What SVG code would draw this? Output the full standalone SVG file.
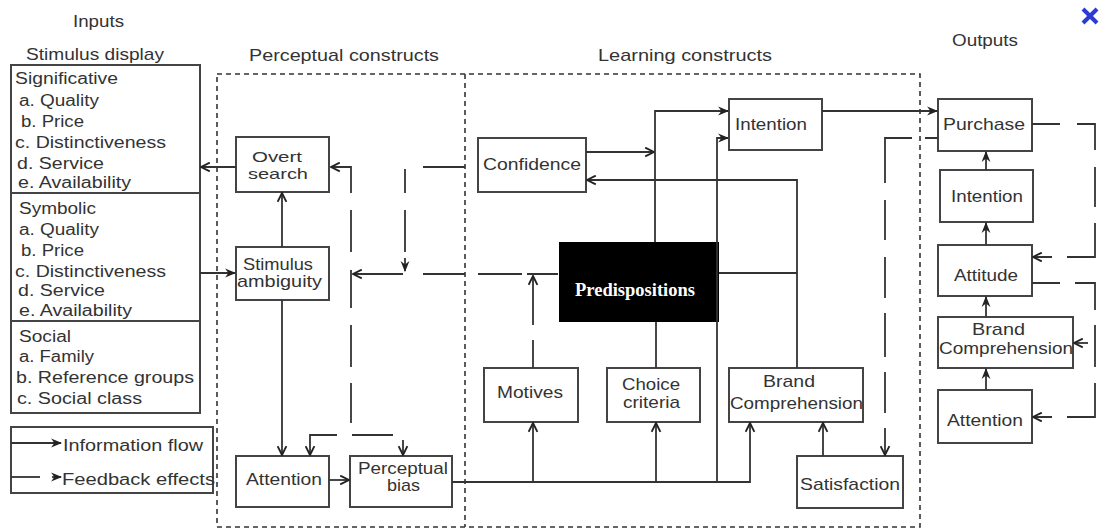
<svg xmlns="http://www.w3.org/2000/svg" width="1103" height="529" viewBox="0 0 1103 529">
<defs>
<style>
.t{font-family:"Liberation Sans",Arial,sans-serif;font-size:16px;fill:#333}
.n{font-family:"Liberation Sans",Arial,sans-serif;font-size:17px;fill:#333}
.box{fill:#fff;stroke:#444;stroke-width:2}
.c{fill:none;stroke:#333;stroke-width:1.8}
.reg{fill:none;stroke:#333;stroke-width:1.6;stroke-dasharray:5,4}
</style>
<marker id="ao" viewBox="0 0 10 10" refX="9" refY="5" markerWidth="11" markerHeight="11" orient="auto" markerUnits="userSpaceOnUse">
<path d="M1,1 L9,5 L1,9" fill="none" stroke="#222" stroke-width="1.7"/>
</marker>
<marker id="af" viewBox="0 0 10 10" refX="9" refY="5" markerWidth="11" markerHeight="11" orient="auto" markerUnits="userSpaceOnUse">
<path d="M0,1 L10,5 L0,9 L3,5 z" fill="#222"/>
</marker>
</defs>
<rect width="1103" height="529" fill="#fff"/>

<g id="headers">
<text class="n" x="73" y="27" textLength="51" lengthAdjust="spacingAndGlyphs">Inputs</text>
<text class="n" x="26" y="60" textLength="138" lengthAdjust="spacingAndGlyphs">Stimulus display</text>
<text class="n" x="249" y="61" textLength="190" lengthAdjust="spacingAndGlyphs">Perceptual constructs</text>
<text class="n" x="598" y="61" textLength="174" lengthAdjust="spacingAndGlyphs">Learning constructs</text>
<text class="n" x="952" y="46" textLength="66" lengthAdjust="spacingAndGlyphs">Outputs</text>
</g>

<g id="regions">
<rect class="reg" x="217" y="74" width="703" height="453"/>
<line class="reg" x1="465" y1="74" x2="465" y2="527"/>
</g>

<g id="stimulus-display">
<rect class="box" x="11" y="65" width="189" height="348"/>
<line x1="11" y1="193" x2="200" y2="193" stroke="#444" stroke-width="2"/>
<line x1="11" y1="321" x2="200" y2="321" stroke="#444" stroke-width="2"/>
<text class="t" x="15" y="84" textLength="103" lengthAdjust="spacingAndGlyphs">Significative</text>
<text class="t" x="19" y="106" textLength="80" lengthAdjust="spacingAndGlyphs">a. Quality</text>
<text class="t" x="21" y="127" textLength="63" lengthAdjust="spacingAndGlyphs">b. Price</text>
<text class="t" x="15" y="148" textLength="151" lengthAdjust="spacingAndGlyphs">c. Distinctiveness</text>
<text class="t" x="17" y="169" textLength="87" lengthAdjust="spacingAndGlyphs">d. Service</text>
<text class="t" x="18" y="188" textLength="113" lengthAdjust="spacingAndGlyphs">e. Availability</text>
<text class="t" x="19" y="214" textLength="77" lengthAdjust="spacingAndGlyphs">Symbolic</text>
<text class="t" x="19" y="235" textLength="80" lengthAdjust="spacingAndGlyphs">a. Quality</text>
<text class="t" x="21" y="256" textLength="63" lengthAdjust="spacingAndGlyphs">b. Price</text>
<text class="t" x="15" y="277" textLength="151" lengthAdjust="spacingAndGlyphs">c. Distinctiveness</text>
<text class="t" x="18" y="296" textLength="87" lengthAdjust="spacingAndGlyphs">d. Service</text>
<text class="t" x="19" y="316" textLength="113" lengthAdjust="spacingAndGlyphs">e. Availability</text>
<text class="t" x="19" y="342" textLength="52" lengthAdjust="spacingAndGlyphs">Social</text>
<text class="t" x="19" y="362" textLength="75" lengthAdjust="spacingAndGlyphs">a. Family</text>
<text class="t" x="16" y="383" textLength="178" lengthAdjust="spacingAndGlyphs">b. Reference groups</text>
<text class="t" x="17" y="404" textLength="125" lengthAdjust="spacingAndGlyphs">c. Social class</text>
</g>

<g id="legend">
<rect class="box" x="11" y="427" width="202" height="66"/>
<line class="c" x1="11" y1="443" x2="61" y2="443" marker-end="url(#af)"/>
<text class="t" x="63" y="451" textLength="140" lengthAdjust="spacingAndGlyphs">Information flow</text>
<line class="c" x1="11" y1="477" x2="40" y2="477"/>
<line class="c" x1="52" y1="477" x2="61" y2="477" marker-end="url(#af)"/>
<text class="t" x="62" y="485" textLength="153" lengthAdjust="spacingAndGlyphs">Feedback effects</text>
</g>

<g id="overt-search">
<rect class="box" x="236" y="137" width="93" height="55"/>
<text class="n" x="252" y="162" textLength="50" lengthAdjust="spacingAndGlyphs" style="font-size:15px">Overt</text>
<text class="n" x="248" y="179" textLength="60" lengthAdjust="spacingAndGlyphs" style="font-size:15px">search</text>
</g>
<g id="stimulus-ambiguity">
<rect class="box" x="236" y="247" width="93" height="53"/>
<text class="n" x="243" y="270" textLength="70" lengthAdjust="spacingAndGlyphs">Stimulus</text>
<text class="n" x="237" y="287" textLength="85" lengthAdjust="spacingAndGlyphs">ambiguity</text>
</g>
<g id="attention-p">
<rect class="box" x="236" y="456" width="93" height="51"/>
<text class="n" x="246" y="485" textLength="76" lengthAdjust="spacingAndGlyphs">Attention</text>
</g>
<g id="perceptual-bias">
<rect class="box" x="350" y="456" width="102" height="51"/>
<text class="n" x="358" y="474" textLength="90" lengthAdjust="spacingAndGlyphs">Perceptual</text>
<text class="n" x="387" y="491" textLength="33" lengthAdjust="spacingAndGlyphs">bias</text>
</g>

<g id="confidence">
<rect class="box" x="478" y="138" width="108" height="54"/>
<text class="n" x="483" y="170" textLength="98" lengthAdjust="spacingAndGlyphs">Confidence</text>
</g>
<g id="intention-l">
<rect class="box" x="729" y="99" width="93" height="51"/>
<text class="n" x="735" y="130" textLength="72" lengthAdjust="spacingAndGlyphs">Intention</text>
</g>
<g id="predispositions">
<rect x="559" y="242" width="160" height="80" fill="#000"/>
<text x="575" y="296" textLength="120" lengthAdjust="spacingAndGlyphs" style="font-family:'Liberation Serif','Times New Roman',serif;font-weight:bold;font-size:18px;fill:#fff">Predispositions</text>
</g>
<g id="motives">
<rect class="box" x="484" y="368" width="94" height="54"/>
<text class="n" x="497" y="398" textLength="66" lengthAdjust="spacingAndGlyphs">Motives</text>
</g>
<g id="choice-criteria">
<rect class="box" x="607" y="368" width="93" height="54"/>
<text class="n" x="622" y="390" textLength="58" lengthAdjust="spacingAndGlyphs">Choice</text>
<text class="n" x="623" y="408" textLength="57" lengthAdjust="spacingAndGlyphs">criteria</text>
</g>
<g id="brand-comprehension-l">
<rect class="box" x="729" y="368" width="134" height="54"/>
<text class="n" x="763" y="387" textLength="52" lengthAdjust="spacingAndGlyphs">Brand</text>
<text class="n" x="730" y="409" textLength="133" lengthAdjust="spacingAndGlyphs">Comprehension</text>
</g>
<g id="satisfaction">
<rect class="box" x="797" y="456" width="106" height="52"/>
<text class="n" x="800" y="490" textLength="100" lengthAdjust="spacingAndGlyphs">Satisfaction</text>
</g>

<g id="purchase">
<rect class="box" x="938" y="99" width="94" height="52"/>
<text class="n" x="943" y="130" textLength="82" lengthAdjust="spacingAndGlyphs">Purchase</text>
</g>
<g id="intention-o">
<rect class="box" x="940" y="170" width="93" height="52"/>
<text class="n" x="951" y="202" textLength="72" lengthAdjust="spacingAndGlyphs">Intention</text>
</g>
<g id="attitude">
<rect class="box" x="938" y="245" width="94" height="51"/>
<text class="n" x="954" y="281" textLength="64" lengthAdjust="spacingAndGlyphs">Attitude</text>
</g>
<g id="brand-comprehension-o">
<rect class="box" x="938" y="317" width="135" height="51"/>
<text class="n" x="972" y="335" textLength="53" lengthAdjust="spacingAndGlyphs">Brand</text>
<text class="n" x="939" y="354" textLength="134" lengthAdjust="spacingAndGlyphs">Comprehension</text>
</g>
<g id="attention-o">
<rect class="box" x="938" y="390" width="94" height="53"/>
<text class="n" x="947" y="426" textLength="76" lengthAdjust="spacingAndGlyphs">Attention</text>
</g>

<g id="connectors">
<path class="c" d="M236,167 H201" marker-end="url(#ao)"/>
<path class="c" d="M282,247 V193" marker-end="url(#ao)"/>
<path class="c" d="M200,273 H235" marker-end="url(#af)"/>
<path class="c" d="M282,300 V455" marker-end="url(#ao)"/>
<path class="c" d="M329,480 H349" marker-end="url(#ao)"/>
<path class="c" d="M452,482 H750 V423" marker-end="url(#ao)"/>
<path class="c" d="M533,482 V423" marker-end="url(#ao)"/>
<path class="c" d="M656,482 V423" marker-end="url(#ao)"/>
<path class="c" d="M717,482 V138 H728" marker-end="url(#af)"/>

<path class="c" d="M465,167 H423 M405,169 V193 M405,210 V252 M405,258 V271" marker-end="url(#af)"/>
<path class="c" d="M558,274 H527 M522,274 H478 M465,274 H423 M403,274 H353" marker-end="url(#ao)"/>
<path class="c" d="M351,423 V383 M351,367 V325 M351,308 V270 M351,252 V210 M351,193 V167 H331" marker-end="url(#ao)"/>
<path class="c" d="M337,435 H310 V455" marker-end="url(#ao)"/>
<path class="c" d="M352,435 H393 M403,440 V455" marker-end="url(#ao)"/>

<path class="c" d="M533,368 V340 M533,325 V276" marker-end="url(#ao)"/>
<path class="c" d="M586,152 H654" marker-end="url(#ao)"/>
<path class="c" d="M655,242 V111 H728" marker-end="url(#af)"/>
<path class="c" d="M656,322 V368"/>
<path class="c" d="M797,368 V180 H587" marker-end="url(#ao)"/>
<path class="c" d="M719,273 H797"/>
<path class="c" d="M823,456 V423" marker-end="url(#ao)"/>
<path class="c" d="M822,111 H937" marker-end="url(#af)"/>
<path class="c" d="M938,138 H925 M912,138 H885 V183 M885,200 V240 M885,257 V298 M885,313 V357 M885,372 V413 M885,428 V455" marker-end="url(#ao)"/>

<path class="c" d="M986,170 V152" marker-end="url(#af)"/>
<path class="c" d="M986,245 V223" marker-end="url(#af)"/>
<path class="c" d="M986,317 V297" marker-end="url(#af)"/>
<path class="c" d="M986,390 V369" marker-end="url(#af)"/>
<path class="c" d="M1032,124 H1060 M1077,124 H1095 V150 M1095,167 V207 M1095,223 V257 H1067 M1052,257 H1033" marker-end="url(#ao)"/>
<path class="c" d="M1032,283 H1060 M1075,283 H1095 V310 M1095,325 V367 M1095,383 V417 H1067 M1052,417 H1033" marker-end="url(#ao)"/>
<path class="c" d="M1088,343 H1074" marker-end="url(#ao)"/>
</g>

<g id="close-icon">
<line x1="1083" y1="9" x2="1097" y2="23" stroke="#2b3bd3" stroke-width="4"/>
<line x1="1097" y1="9" x2="1083" y2="23" stroke="#2b3bd3" stroke-width="4"/>
</g>
</svg>
